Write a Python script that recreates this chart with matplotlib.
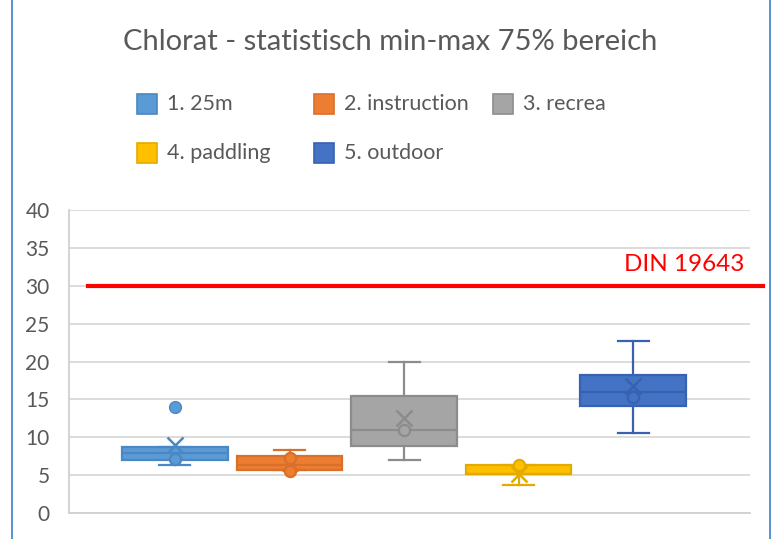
import matplotlib
matplotlib.use('Agg')
import matplotlib.pyplot as plt
from matplotlib.patches import Rectangle
from matplotlib.lines import Line2D

plt.rcParams['font.family'] = ['Lato', 'DejaVu Sans']

# --- Datos ---
nombres = ['1. 25m', '2. instruction', '3. recrea', '4. paddling', '5. outdoor']
q1 = [7.0, 5.7, 8.85, 5.1, 14.1]
mediana = [7.95, 6.4, 10.9, 5.1, 16.0]
q3 = [8.75, 7.5, 15.5, 6.4, 18.2]
bigote_bajo = [6.4, 5.7, 7.0, 3.65, 10.6]
bigote_alto = [8.75, 8.3, 20.0, 6.4, 22.7]
media = [9.0, 6.6, 12.5, 5.1, 16.7]
puntos_internos = [[7.1], [7.3, 5.6], [10.9], [6.35], [15.35]]
atipicos = [[13.95], [], [], [], []]
limite_din = 30
yticks = [0, 5, 10, 15, 20, 25, 30, 35, 40]

relleno = ['#5B9BD5', '#ED7D31', '#A5A5A5', '#FFC000', '#4472C4']
borde = ['#4A87C4', '#D9702A', '#8C8C8C', '#E3AB00', '#3762B0']
gris = '#595959'

fig = plt.figure(figsize=(7.74, 5.39), dpi=100)
ax = fig.add_axes([69 / 774, 26 / 539, 681 / 774, 303 / 539])

posiciones = list(range(1, len(nombres) + 1))
for i, pos in enumerate(posiciones):
    stats = [{
        'med': mediana[i], 'q1': q1[i], 'q3': q3[i],
        'whislo': bigote_bajo[i], 'whishi': bigote_alto[i],
        'mean': media[i], 'fliers': atipicos[i],
    }]
    lw = 1.6
    ax.bxp(stats, positions=[pos], widths=0.92, capwidths=0.27,
           patch_artist=True, showmeans=True,
           boxprops=dict(facecolor=relleno[i], edgecolor=borde[i], linewidth=lw),
           medianprops=dict(color=borde[i], linewidth=lw),
           whiskerprops=dict(color=borde[i], linewidth=lw),
           capprops=dict(color=borde[i], linewidth=lw),
           meanprops=dict(marker='x', markeredgecolor=borde[i], markersize=12,
                          markeredgewidth=1.8),
           flierprops=dict(marker='o', markerfacecolor=relleno[i],
                           markeredgecolor=borde[i], markersize=8.5))
    ax.scatter([pos] * len(puntos_internos[i]), puntos_internos[i], s=65,
               facecolor=relleno[i], edgecolor=borde[i], linewidth=1.6, zorder=4)

ax.set_xlim(0.075, 6.02)
ax.set_ylim(0, 40)
ax.set_yticks(yticks)
ax.set_xticks([])
ax.grid(axis='y', color='#D9D9D9', linewidth=1.3)
ax.set_axisbelow(True)
ax.tick_params(axis='y', length=0, pad=14, labelsize=15, labelcolor=gris)
for lado in ['top', 'right']:
    ax.spines[lado].set_visible(False)
for lado in ['left', 'bottom']:
    ax.spines[lado].set_color('#D0D0D0')
    ax.spines[lado].set_linewidth(1.3)

# linea DIN 19643
ax.axhline(limite_din, xmin=19 / 681, xmax=694 / 681, color='#FF0000',
           linewidth=3, clip_on=False, zorder=5)
ax.text(5.97, limite_din + 1.4, 'DIN 19643', color='#FF0000', fontsize=17.5,
        ha='right', va='bottom')

# titulo
fig.text(390 / 774, 1 - 42 / 539, 'Chlorat - statistisch min-max 75% bereich',
         ha='center', va='center', fontsize=21, color=gris)

# leyenda manual
pos_leyenda = [(137, 104), (314, 104), (493, 104), (137, 153), (314, 153)]
for i, (px, py) in enumerate(pos_leyenda):
    fig.patches.append(Rectangle((px / 774, 1 - (py + 10) / 539), 20 / 774, 20 / 539,
                                 transform=fig.transFigure, facecolor=relleno[i],
                                 edgecolor=borde[i], linewidth=1.2))
    fig.text((px + 30) / 774, 1 - py / 539, nombres[i], ha='left', va='center',
             fontsize=15.5, color=gris)

# bordes azules de la captura
for x in [12, 770]:
    fig.add_artist(Line2D([x / 774, x / 774], [0, 1], color='#3C7FC8',
                          linewidth=1.2, transform=fig.transFigure))

fig.savefig('out.png', dpi=100, facecolor='white')
